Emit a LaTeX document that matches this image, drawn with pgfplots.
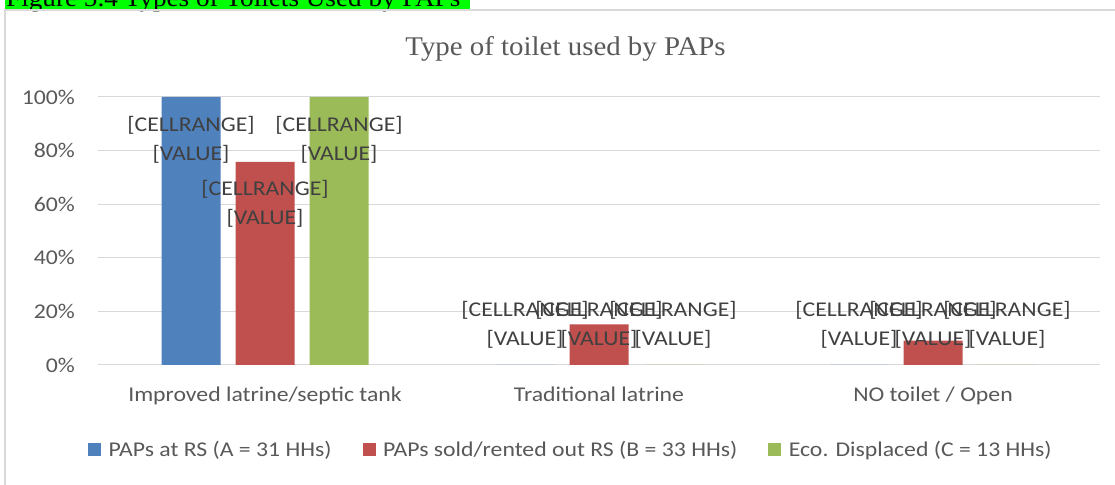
\documentclass[border=0pt]{standalone}
\usepackage{fontspec}
\setmainfont{Carlito}[FakeStretch=1.13]
\newfontfamily\serifttl{Liberation Serif}[FakeStretch=1.07]
\usepackage{pgfplots}
\pgfplotsset{compat=1.18}
\definecolor{cblue}{HTML}{4F81BD}
\definecolor{cred}{HTML}{C0504D}
\definecolor{cgreen}{HTML}{9BBB59}
\definecolor{gridc}{HTML}{D9D9D9}
\definecolor{tickc}{HTML}{595959}
\definecolor{labc}{HTML}{404040}
\definecolor{hilite}{HTML}{00FF00}
\begin{document}
\begin{tikzpicture}[x=1pt,y=1pt]
\path[use as bounding box] (0,0) rectangle (1115,484);
\clip (0,0) rectangle (1115,484);
\fill[white] (0,0) rectangle (1115,484);
\fill[hilite] (5,475) rectangle (470,484);
\node[anchor=base west, inner sep=0pt, font=\serifttl\fontsize{25.4}{30}\selectfont] at (6,477.5) {Figure 5.4 Types of Toilets Used by PAPs};
\draw[gridc, line width=1.3pt] (5,-5) -- (5,474) -- (1120,474);
\node[anchor=base, inner sep=0pt, text=tickc, font=\serifttl\fontsize{27}{32}\selectfont] at (565.5,428) {Type of toilet used by PAPs};
\begin{axis}[
  at={(98pt,119pt)}, anchor=south west,
  scale only axis, width=1002pt, height=268pt,
  xmin=-0.5, xmax=2.5, ymin=0, ymax=100,
  ybar=15pt, bar width=59pt,
  axis line style={draw=none},
  major tick length=0pt,
  ymajorgrids, grid style={gridc, line width=1pt},
  ytick={0,20,40,60,80,100},
  yticklabel={\pgfmathprintnumber{\tick}\%},
  xtick={0,1,2},
  xticklabels={Improved latrine/septic tank, Traditional latrine, NO toilet / Open},
  /pgf/number format/assume math mode=true,
  tick label style={font=\fontsize{21}{25}\selectfont, text=tickc},
  yticklabel style={anchor=east, inner sep=0pt, xshift=-23pt},
  xticklabel style={anchor=base, inner sep=0pt, yshift=-36.7pt},
  legend columns=3,
  legend style={at={(0.472,-0.317)}, anchor=center, draw=none, fill=none,
    font=\fontsize{21}{25}\selectfont, text=tickc, inner sep=0pt,
    /tikz/every odd column/.append style={column sep=5.5pt},
    /tikz/every even column/.append style={column sep=29pt}},
  legend image code/.code={\fill[#1] (0pt,-6pt) rectangle (13pt,7pt);},
  every axis plot/.append style={draw=none},
]
\addplot[fill=cblue] coordinates {(0,100) (1,0) (2,0)};
\addplot[fill=cred] coordinates {(0,75.76) (1,15.15) (2,9.09)};
\addplot[fill=cgreen] coordinates {(0,100) (1,0) (2,0)};
\legend{PAPs at RS (A = 31 HHs), PAPs sold/rented out RS (B = 33 HHs), Eco. Displaced (C = 13 HHs)}
\tikzset{lbl/.style={align=center, inner sep=0pt, text=labc, font=\fontsize{21}{29}\selectfont}}
\node[lbl, xshift=-74pt] at (axis cs:0,84.1) {[CELLRANGE]\\{}[VALUE]};
\node[lbl] at (axis cs:0,60.1) {[CELLRANGE]\\{}[VALUE]};
\node[lbl, xshift=74pt] at (axis cs:0,84.1) {[CELLRANGE]\\{}[VALUE]};
\node[lbl, xshift=-74pt] at (axis cs:1,14.9) {[CELLRANGE]\\{}[VALUE]};
\node[lbl] at (axis cs:1,14.9) {[CELLRANGE]\\{}[VALUE]};
\node[lbl, xshift=74pt] at (axis cs:1,14.9) {[CELLRANGE]\\{}[VALUE]};
\node[lbl, xshift=-74pt] at (axis cs:2,14.9) {[CELLRANGE]\\{}[VALUE]};
\node[lbl] at (axis cs:2,14.9) {[CELLRANGE]\\{}[VALUE]};
\node[lbl, xshift=74pt] at (axis cs:2,14.9) {[CELLRANGE]\\{}[VALUE]};
\end{axis}
\end{tikzpicture}
\end{document}
